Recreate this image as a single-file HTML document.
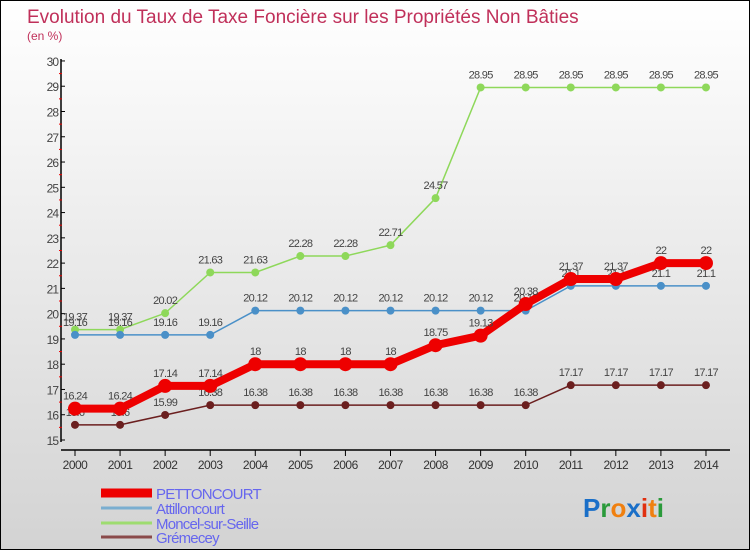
<!DOCTYPE html>
<html><head><meta charset="utf-8"><style>
body{margin:0}
#c{width:748px;height:548px;border:1px solid #000;background:linear-gradient(#fff,#d3d3d3);position:relative;overflow:hidden;font-family:"Liberation Sans",sans-serif}
</style></head><body>
<div id="c">
<svg id="s" width="748" height="548"></svg>
</div>
<script>
const years=["2000","2001","2002","2003","2004","2005","2006","2007","2008","2009","2010","2011","2012","2013","2014"];
const pettoncourt=[16.24,16.24,17.14,17.14,18,18,18,18,18.75,19.13,20.38,21.37,21.37,22,22];
const attilloncourt=[19.16,19.16,19.16,19.16,20.12,20.12,20.12,20.12,20.12,20.12,20.12,21.1,21.1,21.1,21.1];
const moncel=[19.37,19.37,20.02,21.63,21.63,22.28,22.28,22.71,24.57,28.95,28.95,28.95,28.95,28.95,28.95];
const gremecey=[15.6,15.6,15.99,16.38,16.38,16.38,16.38,16.38,16.38,16.38,16.38,17.17,17.17,17.17,17.17];
const yTicks=[15,16,17,18,19,20,21,22,23,24,25,26,27,28,29,30];
const NS="http://www.w3.org/2000/svg";
const s=document.getElementById('s');
const X=i=>74+i*45.07;
const Y=v=>439-(v-15)*25.27;
function el(t,a,txt){const e=document.createElementNS(NS,t);for(const k in a)e.setAttribute(k,a[k]);if(txt!==undefined)e.textContent=txt;s.appendChild(e);return e;}
let e;
e=el('text',{x:26,y:22,'font-size':19,fill:'#c0305a'},'Evolution du Taux de Taxe Foncière sur les Propriétés Non Bâties');

e=el('text',{x:26,y:39,'font-size':12,fill:'#c0305a'},'(en %)');

e=el('line',{x1:60,y1:58,x2:60,y2:441,stroke:'#000','stroke-width':1.5});

e=el('line',{x1:60,y1:449,x2:729,y2:449,stroke:'#000','stroke-width':1.5});

yTicks.forEach((v,i)=>{
 el('line',{x1:60,y1:Y(v),x2:64,y2:Y(v),stroke:'#000'});
 if(i<yTicks.length-1)el('line',{x1:58,y1:Y(v+0.5),x2:61,y2:Y(v+0.5),stroke:'#e00'});
 e=el('text',{x:57,y:Y(v)+5,'font-size':12,fill:'#444','text-anchor':'end','letter-spacing':'-1'},String(v));
 
});
years.forEach((y,i)=>{
 el('line',{x1:X(i),y1:449,x2:X(i),y2:455,stroke:'#000'});
 e=el('text',{x:X(i),y:468,'font-size':12,fill:'#333','text-anchor':'middle','letter-spacing':'-0.5'},y);
 
});
function series(data,color,w,r,name){
 e=el('polyline',{points:data.map((v,i)=>X(i)+','+Y(v)).join(' '),fill:'none',stroke:color,'stroke-width':w});
 
 data.forEach((v,i)=>{
  e=el('circle',{cx:X(i),cy:Y(v),r:r,fill:color});
  
  e=el('text',{x:X(i),y:Y(v)-9,'font-size':11,fill:'#444','text-anchor':'middle','letter-spacing':'-0.7'},String(v));
  
 });
}
series(moncel,'#8ed85a',1.5,4,'moncel');
series(attilloncourt,'#4a90c8',1.5,4,'attilloncourt');
series(gremecey,'#6b1f1f',1.5,4,'gremecey');
series(pettoncourt,'#ee0000',8,7,'pettoncourt');
const leg=[['PETTONCOURT','#ee0000',9,496],['Attilloncourt','#7aaed0',3,511],['Moncel-sur-Seille','#9edc70',3,526],['Grémecey','#8a4a4a',3,540]];
leg.forEach(l=>{
 e=el('line',{x1:100,y1:l[3]-4,x2:151,y2:l[3]-4,stroke:l[1],'stroke-width':l[2]});
 
 e=el('text',{x:155,y:l[3]+2,'font-size':15,fill:'#6666ee','letter-spacing':'-0.8'},l[0]);
 
});
e=el('text',{x:582,y:516,'font-size':26,'font-weight':'bold'},'');

[['P','#1a6fc8'],['r','#2a9a3a'],['o','#f08010'],['x','#1a6fc8'],['i','#e03010'],['t','#f08010'],['i','#2a9a3a']].forEach(c=>{const t=document.createElementNS(NS,'tspan');t.setAttribute('fill',c[1]);t.textContent=c[0];e.appendChild(t);});
</script>
</body></html>
